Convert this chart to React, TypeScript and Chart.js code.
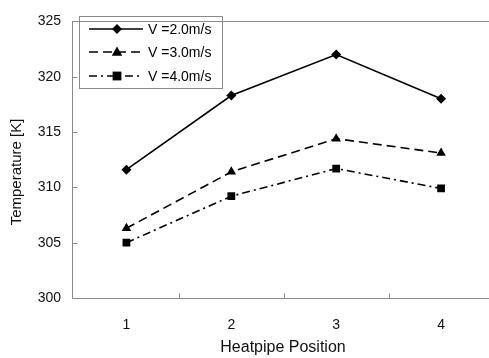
import React, { useEffect, useRef } from "react";
import { Chart, registerables } from "chart.js";

Chart.register(...registerables);

const categories = ["1", "2", "3", "4"];
const seriesLabels = ["V =2.0m/s", "V =3.0m/s", "V =4.0m/s"];
const v2 = [311.6, 318.3, 322.0, 318.0];
const v3 = [306.3, 311.4, 314.4, 313.1];
const v4 = [305.0, 309.2, 311.7, 309.9];
const yTicks = [300, 305, 310, 315, 320, 325];
const xTitle = "Heatpipe Position";
const yTitle = "Temperature [K]";

const FONT = "'Liberation Sans', Arial, sans-serif";
const AXIS = "#8a8a8a";

function drawMarker(ctx: CanvasRenderingContext2D, style: string, x: number, y: number, r: number) {
  ctx.save();
  ctx.fillStyle = "#000";
  ctx.beginPath();
  if (style === "rectRot") {
    ctx.moveTo(x, y - r);
    ctx.lineTo(x + r, y);
    ctx.lineTo(x, y + r);
    ctx.lineTo(x - r, y);
    ctx.closePath();
  } else if (style === "triangle") {
    ctx.moveTo(x, y - r);
    ctx.lineTo(x + r * 0.95, y + r * 0.7);
    ctx.lineTo(x - r * 0.95, y + r * 0.7);
    ctx.closePath();
  } else {
    const s = r * 0.8;
    ctx.rect(x - s, y - s, 2 * s, 2 * s);
  }
  ctx.fill();
  ctx.restore();
}

const decorPlugin = {
  id: "decor",
  afterDraw(chart: any) {
    const ctx: CanvasRenderingContext2D = chart.ctx;
    const area = chart.chartArea;
    const xs = chart.scales.x;
    const ys = chart.scales.y;
    const ax = Math.round(area.left) - 1.5;
    const top = Math.round(area.top) + 0.5;
    const bot = Math.round(area.bottom) + 0.5;
    ctx.save();
    ctx.strokeStyle = AXIS;
    ctx.lineWidth = 1;
    ctx.beginPath();
    ctx.moveTo(ax, top);
    ctx.lineTo(chart.width, top);
    ctx.moveTo(ax, top);
    ctx.lineTo(ax, bot);
    ctx.lineTo(chart.width, bot);
    ctx.stroke();
    ctx.beginPath();
    yTicks.forEach((v) => {
      const py = Math.round(ys.getPixelForValue(v)) + 0.5;
      ctx.moveTo(ax, py);
      ctx.lineTo(ax + 5, py);
    });
    for (let i = 0; i < categories.length - 1; i++) {
      const px = Math.round(xs.getPixelForValue(i + 0.5)) + 0.5;
      ctx.moveTo(px, bot);
      ctx.lineTo(px, bot - 5);
    }
    ctx.stroke();

    ctx.fillStyle = "#111";
    ctx.font = `16px ${FONT}`;
    ctx.textAlign = "center";
    ctx.textBaseline = "middle";
    ctx.fillText(xTitle, 283, 348);
    ctx.save();
    ctx.translate(17, 172);
    ctx.rotate(-Math.PI / 2);
    ctx.font = `15px ${FONT}`;
    ctx.fillText(yTitle, 0, 0);
    ctx.restore();

    ctx.strokeStyle = AXIS;
    ctx.lineWidth = 1;
    ctx.strokeRect(79.5, 16.5, 143, 72);
    const rows = [29, 52, 76];
    chart.data.datasets.forEach((ds: any, i: number) => {
      const y = rows[i];
      ctx.save();
      ctx.strokeStyle = "#000";
      ctx.lineWidth = ds.borderWidth;
      ctx.setLineDash(ds.borderDash || []);
      ctx.beginPath();
      ctx.moveTo(89, y);
      ctx.lineTo(143, y);
      ctx.stroke();
      ctx.restore();
      drawMarker(ctx, ds.pointStyle, 117, y, ds.pointRadius);
      ctx.fillStyle = "#000";
      ctx.font = `14px ${FONT}`;
      ctx.textAlign = "left";
      ctx.textBaseline = "middle";
      ctx.fillText(ds.label, 148, y + 1);
    });
    ctx.restore();
  },
};

export default function App() {
  const ref = useRef<HTMLCanvasElement | null>(null);
  useEffect(() => {
    if (!ref.current) return;
    const mk = (label: string, data: number[], style: string, dash: number[], r: number) => ({
      label,
      data,
      borderColor: "#000",
      backgroundColor: "#000",
      borderWidth: 1.6,
      borderDash: dash,
      pointStyle: style,
      pointRadius: r,
      pointHoverRadius: r,
      pointBorderWidth: 0,
      pointBackgroundColor: "#000",
      tension: 0,
      fill: false,
    });
    const chart = new Chart(ref.current, {
      type: "line",
      data: {
        labels: categories,
        datasets: [
          mk(seriesLabels[0], v2, "rectRot", [], 5),
          mk(seriesLabels[1], v3, "triangle", [9, 5], 5.5),
          mk(seriesLabels[2], v4, "rect", [8, 4, 2, 4], 5.5),
        ],
      },
      options: {
        responsive: false,
        animation: false,
        devicePixelRatio: 1,
        layout: { padding: { top: 5.6, left: 0, right: 0, bottom: 0 } },
        plugins: { legend: { display: false }, tooltip: { enabled: false } },
        scales: {
          x: {
            offset: true,
            border: { display: false },
            grid: { display: false, drawTicks: false },
            ticks: { color: "#111", font: { family: FONT, size: 14 }, padding: 19 },
            afterFit: (s: any) => {
              s.height = 60;
            },
          },
          y: {
            min: 300,
            max: 325,
            border: { display: false },
            grid: { display: false, drawTicks: false },
            ticks: { stepSize: 5, color: "#111", font: { family: FONT, size: 14 }, padding: 13 },
            afterFit: (s: any) => {
              s.width = 74;
            },
          },
        },
      },
      plugins: [decorPlugin],
    });
    return () => chart.destroy();
  }, []);
  return (
    <div style={{ position: "absolute", left: 0, top: 0, width: 489, height: 358, overflow: "hidden", background: "#fff" }}>
      <canvas ref={ref} width={499} height={358} style={{ display: "block", width: 499, height: 358 }} />
    </div>
  );
}
